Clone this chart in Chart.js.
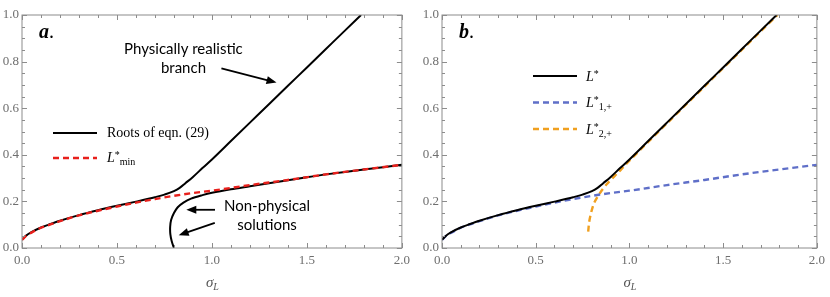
<!DOCTYPE html>
<html>
<head>
<meta charset="utf-8">
<script src="https://cdn.jsdelivr.net/npm/chart.js@4"></script>
<style>
body { margin: 0; background: #fff; }
.panel { position: absolute; top: 0; width: 415px; height: 297px; }
</style>
</head>
<body>
<div class="panel" style="left:0"><canvas id="chartA"></canvas></div>
<div class="panel" style="left:415px"><canvas id="chartB"></canvas></div>
<script>
// physically realistic root (L*)
var sigmaUpper = [0, 0.02, 0.05, 0.1, 0.15, 0.2, 0.3, 0.4, 0.5, 0.6, 0.7, 0.75, 0.8, 0.83, 0.86, 0.9, 0.95, 1.0, 1.1, 1.2, 1.3, 1.4, 1.5, 1.6, 1.7, 1.785];
var lUpper = [0.035, 0.052, 0.068, 0.088, 0.103, 0.117, 0.141, 0.162, 0.181, 0.199, 0.218, 0.229, 0.244, 0.258, 0.278, 0.305, 0.343, 0.38, 0.459, 0.538, 0.617, 0.696, 0.775, 0.854, 0.933, 1.0];

// L*min  (same curve as L*1,+ in panel b)
var sigmaMin = [0, 0.02, 0.05, 0.1, 0.15, 0.2, 0.25, 0.3, 0.4, 0.5, 0.6, 0.7, 0.8, 0.9, 1.0, 1.2, 1.4, 1.6, 1.8, 2.0];
var lMin = [0.035, 0.051, 0.066, 0.087, 0.101, 0.115, 0.128, 0.140, 0.160, 0.178, 0.195, 0.210, 0.224, 0.236, 0.246, 0.270, 0.292, 0.316, 0.337, 0.357];

// non-physical root, goes back on itself near sigma = 0.8
var sigmaLower = [0.80, 0.788, 0.781, 0.780, 0.785, 0.80, 0.82, 0.85, 0.89, 0.95, 1.0, 1.1, 1.2, 1.3, 1.4, 1.5, 1.6, 1.8, 2.0];
var lLower = [0.0, 0.03, 0.06, 0.09, 0.12, 0.15, 0.175, 0.195, 0.212, 0.227, 0.237, 0.252, 0.265, 0.278, 0.291, 0.304, 0.316, 0.337, 0.357];

// L*2,+
var sigmaBranch2 = [0.78, 0.785, 0.795, 0.81, 0.83, 0.855, 0.88, 0.91, 0.94, 0.97, 1.0, 1.2, 1.4, 1.6, 1.79];
var lBranch2 = [0.07, 0.11, 0.15, 0.19, 0.22, 0.25, 0.275, 0.30, 0.324, 0.35, 0.375, 0.535, 0.693, 0.851, 1.0];

var xTicks = [0, 0.5, 1.0, 1.5, 2.0];
var yTicks = [0, 0.2, 0.4, 0.6, 0.8, 1.0];

function pts(xs, ys) {
    return xs.map(function (x, i) { return { x: x, y: ys[i] }; });
}

var serif = "'Liberation Serif', 'Times New Roman', serif";
var sans = "Lato, 'Open Sans', sans-serif";

// text pieces with super/subscripts, drawn left to right
function drawRich(ctx, parts, x, y) {
    parts.forEach(function (p) {
        ctx.font = p.f;
        ctx.fillText(p.t, x, y + (p.dy || 0));
        x += ctx.measureText(p.t).width + (p.gap || 0);
    });
}

function arrow(ctx, x1, y1, x2, y2) {
    var a = Math.atan2(y2 - y1, x2 - x1);
    var hl = 10, hw = 4;
    ctx.strokeStyle = '#000';
    ctx.fillStyle = '#000';
    ctx.lineWidth = 1.8;
    ctx.beginPath();
    ctx.moveTo(x1, y1);
    ctx.lineTo(x2 - hl * 0.8 * Math.cos(a), y2 - hl * 0.8 * Math.sin(a));
    ctx.stroke();
    ctx.beginPath();
    ctx.moveTo(x2, y2);
    ctx.lineTo(x2 - hl * Math.cos(a) + hw * Math.sin(a), y2 - hl * Math.sin(a) - hw * Math.cos(a));
    ctx.lineTo(x2 - hl * Math.cos(a) - hw * Math.sin(a), y2 - hl * Math.sin(a) + hw * Math.cos(a));
    ctx.closePath();
    ctx.fill();
}

// per-panel extras (kept out of chart options so Chart.js does not call them)
var panelNotes = {};

panelNotes.chartA = {
    tag: 'a',
    draw: function (ctx, xs, ys) {
        function X(v) { return xs.getPixelForValue(v); }
        function Y(v) { return ys.getPixelForValue(v); }
        // legend
        ctx.lineWidth = 2; ctx.strokeStyle = '#000';
        ctx.beginPath(); ctx.moveTo(53, 133); ctx.lineTo(97, 133); ctx.stroke();
        ctx.strokeStyle = '#e8201c'; ctx.lineWidth = 2.4; ctx.setLineDash([6, 4]);
        ctx.beginPath(); ctx.moveTo(53, 158); ctx.lineTo(97, 158); ctx.stroke();
        ctx.setLineDash([]);
        ctx.fillStyle = '#000';
        drawRich(ctx, [{ t: 'Roots of eqn. (29)', f: '14px ' + serif }], 107, 137);
        drawRich(ctx, [
            { t: 'L', f: 'italic 14px ' + serif },
            { t: '*', f: '10px ' + serif, dy: -4 },
            { t: 'min', f: '10px ' + serif, dy: 3 }
        ], 107, 162);
        // annotations
        ctx.font = '15px ' + sans;
        ctx.textAlign = 'center';
        ctx.fillText('Physically realistic', X(0.85), Y(0.833));
        ctx.fillText('branch', X(0.85), Y(0.751));
        ctx.fillText('Non-physical', X(1.29), Y(0.157));
        ctx.fillText('solutions', X(1.29), Y(0.078));
        ctx.textAlign = 'left';
        arrow(ctx, X(1.05), Y(0.771), X(1.34), Y(0.71));
        arrow(ctx, X(1.016), Y(0.164), X(0.865), Y(0.164));
        arrow(ctx, X(1.015), Y(0.108), X(0.825), Y(0.055));
    }
};

panelNotes.chartB = {
    tag: 'b',
    draw: function (ctx) {
        ctx.lineWidth = 2; ctx.strokeStyle = '#000';
        ctx.beginPath(); ctx.moveTo(118, 76); ctx.lineTo(162, 76); ctx.stroke();
        ctx.lineWidth = 2.4; ctx.setLineDash([6, 4]);
        ctx.strokeStyle = '#5f6fc8';
        ctx.beginPath(); ctx.moveTo(118, 102.5); ctx.lineTo(162, 102.5); ctx.stroke();
        ctx.strokeStyle = '#f0a020';
        ctx.beginPath(); ctx.moveTo(118, 129); ctx.lineTo(162, 129); ctx.stroke();
        ctx.setLineDash([]);
        ctx.fillStyle = '#000';
        drawRich(ctx, [
            { t: 'L', f: 'italic 14px ' + serif },
            { t: '*', f: '10px ' + serif, dy: -4 }
        ], 171, 81);
        drawRich(ctx, [
            { t: 'L', f: 'italic 14px ' + serif },
            { t: '*', f: '10px ' + serif, dy: -4 },
            { t: '1,+', f: '10px ' + serif, dy: 3 }
        ], 171, 107);
        drawRich(ctx, [
            { t: 'L', f: 'italic 14px ' + serif },
            { t: '*', f: '10px ' + serif, dy: -4 },
            { t: '2,+', f: '10px ' + serif, dy: 3 }
        ], 171, 134);
    }
};

// Mathematica-style frame with inward ticks on all four sides
var framePlugin = {
    id: 'frame',
    afterDraw: function (chart) {
        var ctx = chart.ctx, a = chart.chartArea;
        var xs = chart.scales.x, ys = chart.scales.y;
        ctx.save();
        ctx.strokeStyle = '#8c8c8c';
        ctx.lineWidth = 1;
        ctx.strokeRect(a.left, a.top, a.right - a.left, a.bottom - a.top);
        ctx.beginPath();
        for (var i = 0; i <= 20; i++) {
            var px = Math.round(xs.getPixelForValue(i / 10)) + 0.5;
            var len = (i % 5 === 0) ? 5 : 3;
            ctx.moveTo(px, a.bottom); ctx.lineTo(px, a.bottom - len);
            ctx.moveTo(px, a.top); ctx.lineTo(px, a.top + len);
        }
        for (var j = 0; j <= 20; j++) {
            var py = Math.round(ys.getPixelForValue(j / 20)) + 0.5;
            var len2 = (j % 4 === 0) ? 5 : 3;
            ctx.moveTo(a.left, py); ctx.lineTo(a.left + len2, py);
            ctx.moveTo(a.right, py); ctx.lineTo(a.right - len2, py);
        }
        ctx.stroke();

        // axis title sigma_L
        ctx.fillStyle = '#555';
        ctx.textBaseline = 'alphabetic';
        var cx = (a.left + a.right) / 2 - 6;
        drawRich(ctx, [
            { t: 'σ', f: 'italic 15px ' + serif },
            { t: 'L', f: 'italic 10px ' + serif, dy: 3 }
        ], cx, 287);

        var n = panelNotes[chart.canvas.id];
        ctx.fillStyle = '#000';
        drawRich(ctx, [
            { t: n.tag, f: 'bold italic 20px ' + serif },
            { t: '.', f: '20px ' + serif }
        ], a.left + 17, 38);
        n.draw(ctx, xs, ys);
        ctx.restore();
    }
};

function baseOptions(yWidth, padRight) {
    return {
        responsive: true,
        maintainAspectRatio: false,
        animation: false,
        layout: { padding: { top: 15, right: padRight, left: 0, bottom: 0 } },
        elements: { point: { radius: 0 } },
        plugins: { legend: { display: false }, tooltip: { enabled: false } },
        scales: {
            x: {
                type: 'linear', min: 0, max: 2,
                grid: { display: false, drawTicks: false }, border: { display: false },
                afterBuildTicks: function (s) { s.ticks = xTicks.map(function (v) { return { value: v }; }); },
                ticks: {
                    padding: 5, color: '#6e6e6e', font: { family: serif, size: 13 },
                    maxRotation: 0,
                    callback: function (v) { return v.toFixed(1); }
                },
                afterFit: function (s) { s.height = 49; }
            },
            y: {
                type: 'linear', min: 0, max: 1,
                grid: { display: false, drawTicks: false }, border: { display: false },
                afterBuildTicks: function (s) { s.ticks = yTicks.map(function (v) { return { value: v }; }); },
                ticks: {
                    padding: 3, color: '#6e6e6e', font: { family: serif, size: 13 },
                    callback: function (v) { return v.toFixed(1); }
                },
                afterFit: function (s) { s.width = yWidth; }
            }
        }
    };
}

function line(data, color, width, dash, smooth) {
    var ds = {
        data: data, showLine: true, borderColor: color, borderWidth: width,
        borderDash: dash || [], fill: false, pointRadius: 0
    };
    if (smooth) {
        ds.tension = 0.3;
    } else {
        ds.cubicInterpolationMode = 'monotone';
        ds.tension = 0.4;
    }
    return ds;
}

new Chart(document.getElementById('chartA'), {
    type: 'scatter',
    data: {
        datasets: [
            line(pts(sigmaMin, lMin), '#e8201c', 2.4, [6, 4]),
            line(pts(sigmaUpper, lUpper), '#000', 2),
            line(pts(sigmaLower, lLower), '#000', 2, null, true)
        ]
    },
    plugins: [framePlugin],
    options: baseOptions(22, 13)
});

new Chart(document.getElementById('chartB'), {
    type: 'scatter',
    data: {
        datasets: [
            line(pts(sigmaUpper, lUpper), '#000', 2),
            line(pts(sigmaMin, lMin), '#5f6fc8', 2.4, [6, 4]),
            line(pts(sigmaBranch2, lBranch2), '#f0a020', 2.4, [6, 4], true)
        ]
    },
    plugins: [framePlugin],
    options: baseOptions(27, 8)
});
</script>
</body>
</html>
